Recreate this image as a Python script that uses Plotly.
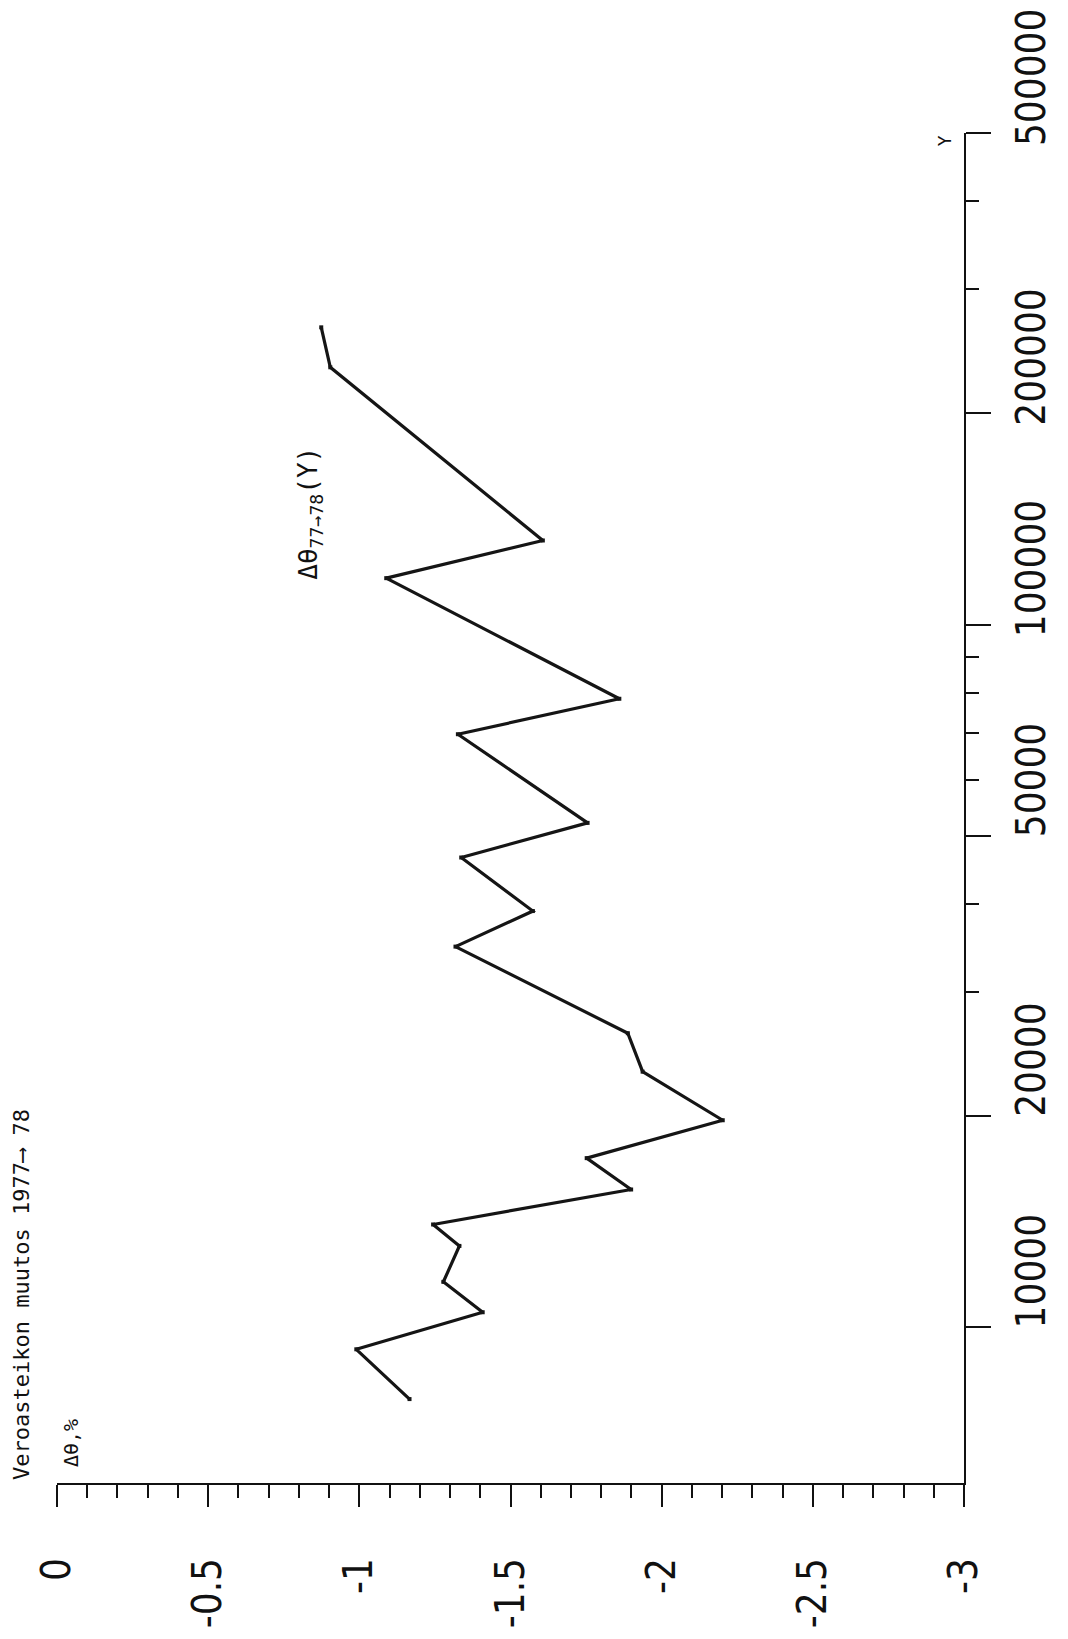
import plotly.graph_objects as go

# Income levels Y (log axis) and change in tax rate (%)
income = [7900, 9300, 10500, 11600, 13050, 14000, 15700, 17400, 19700, 23100,
          26200, 34800, 39100, 46600, 52200, 69800, 78400, 116400, 131700,
          232300, 264800]
delta_theta = [-1.166, -0.990, -1.408, -1.278, -1.331, -1.244, -1.899, -1.752,
               -2.202, -1.937, -1.888, -1.318, -1.574, -1.337, -1.755, -1.326,
               -1.860, -1.089, -1.607, -0.904, -0.874]

x_tickvals = [0, -0.5, -1, -1.5, -2, -2.5, -3]
x_ticktext = ["0", "-0.5", "-1", "-1.5", "-2", "-2.5", "-3"]
y_tickvals = [10000, 20000, 50000, 100000, 200000, 500000]
y_ticktext = ["10000", "20000", "50000", "100000", "200000", "500000"]
y_minorvals = [30000, 40000, 60000, 70000, 80000, 90000, 300000, 400000]

title_text = "Veroasteikon muutos 1977⟶ 78"
x_label = "Δθ,%"
y_label = "Y"
curve_label = "Δθ<sub>77→78</sub>(Y)"

TICKFONT = dict(family="DejaVu Sans Condensed, sans-serif", size=40, color="#111")
MONO = "DejaVu Sans Mono, monospace"

fig = go.Figure()
fig.add_trace(go.Scatter(
    x=delta_theta, y=income, mode="lines+markers",
    line=dict(color="#151515", width=3.2),
    marker=dict(symbol="square", size=4, color="#151515"),
    showlegend=False, hoverinfo="skip"))

fig.update_xaxes(
    range=[0, -3], tickmode="array", tickvals=x_tickvals, ticktext=x_ticktext,
    showline=True, linecolor="#111", linewidth=2, ticks="outside", ticklen=22,
    tickwidth=2, tickcolor="#111", tickangle=-90, tickfont=TICKFONT,
    ticklabelstandoff=35, ticklabeloverflow="allow", showgrid=False,
    zeroline=False, automargin=False,
    minor=dict(dtick=0.1, tick0=0, ticks="outside", ticklen=13, tickwidth=2,
               tickcolor="#111", showgrid=False))
fig.update_yaxes(
    type="log", range=[3.7782, 5.6995], side="right", tickmode="array",
    tickvals=y_tickvals, ticktext=y_ticktext,
    showline=True, linecolor="#111", linewidth=2, ticks="outside", ticklen=25,
    tickwidth=2, tickcolor="#111", tickangle=-90, tickfont=TICKFONT,
    ticklabelstandoff=6, ticklabelshift=-50, ticklabeloverflow="allow",
    showgrid=False, zeroline=False, automargin=False,
    minor=dict(tickmode="array", tickvals=y_minorvals, ticks="outside",
               ticklen=13, tickwidth=2, tickcolor="#111", showgrid=False))

anns = [
    dict(text=title_text, x=-0.0397, y=0.14, font=dict(family=MONO, size=22, color="#111")),
    dict(text=x_label, x=0.0154, y=0.0296, font=dict(family=MONO, size=20, color="#111")),
    dict(text=y_label, x=0.978, y=0.994, font=dict(family=MONO, size=18, color="#111")),
    dict(text=curve_label, x=0.279, y=0.718, font=dict(family=MONO, size=26, color="#111")),
]
for a in anns:
    fig.add_annotation(xref="paper", yref="paper", textangle=-90, showarrow=False,
                       xanchor="center", yanchor="middle", **a)

# the page body adds an 8 px offset, so the figure is 8 px smaller
fig.update_layout(
    width=1060, height=1631, margin=dict(l=49, r=104, t=125, b=156),
    plot_bgcolor="white", paper_bgcolor="white")

fig.write_html("out.html")
